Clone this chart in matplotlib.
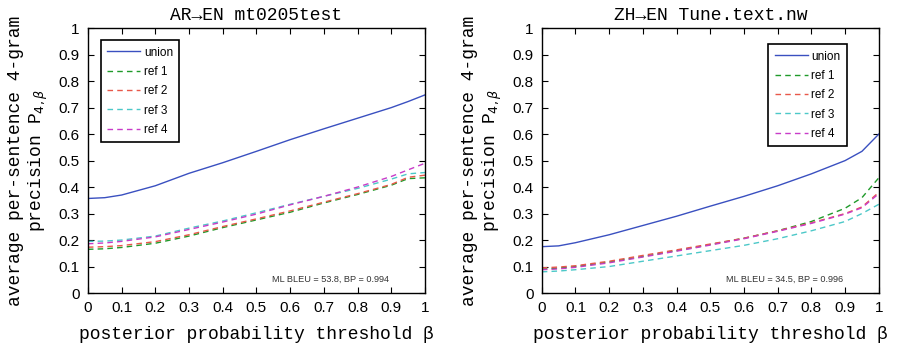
import matplotlib
matplotlib.use('Agg')
import matplotlib.pyplot as plt

# x axis: posterior probability threshold
beta = [0, 0.05, 0.1, 0.2, 0.3, 0.4, 0.5, 0.6, 0.7, 0.8, 0.9, 0.95, 1.0]

# AR->EN mt0205test
ar_union = [0.357, 0.360, 0.370, 0.405, 0.452, 0.492, 0.535, 0.579, 0.620, 0.660, 0.700, 0.723, 0.748]
ar_ref1 = [0.165, 0.167, 0.172, 0.188, 0.215, 0.247, 0.276, 0.305, 0.340, 0.372, 0.407, 0.432, 0.435]
ar_ref2 = [0.173, 0.175, 0.179, 0.194, 0.220, 0.251, 0.280, 0.310, 0.343, 0.375, 0.410, 0.437, 0.445]
ar_ref3 = [0.195, 0.196, 0.200, 0.215, 0.245, 0.272, 0.303, 0.335, 0.365, 0.395, 0.430, 0.450, 0.455]
ar_ref4 = [0.186, 0.189, 0.195, 0.212, 0.240, 0.268, 0.298, 0.333, 0.365, 0.400, 0.440, 0.465, 0.490]

# ZH->EN Tune.text.nw
zh_union = [0.175, 0.178, 0.190, 0.220, 0.255, 0.290, 0.328, 0.365, 0.405, 0.450, 0.500, 0.535, 0.600]
zh_ref1 = [0.090, 0.094, 0.100, 0.117, 0.138, 0.160, 0.183, 0.207, 0.235, 0.270, 0.320, 0.360, 0.435]
zh_ref2 = [0.095, 0.098, 0.103, 0.120, 0.142, 0.163, 0.185, 0.207, 0.235, 0.265, 0.300, 0.325, 0.380]
zh_ref3 = [0.080, 0.083, 0.088, 0.100, 0.120, 0.140, 0.160, 0.180, 0.205, 0.235, 0.270, 0.300, 0.335]
zh_ref4 = [0.088, 0.091, 0.097, 0.114, 0.136, 0.158, 0.181, 0.205, 0.233, 0.263, 0.298, 0.322, 0.375]

series_labels = ['union', 'ref 1', 'ref 2', 'ref 3', 'ref 4']
colors = ['#3a50c0', '#1f9a2a', '#e8584a', '#4cc8c8', '#c83cc8']
styles = ['-', '--', '--', '--', '--']

titles = [u'AR\u2192EN mt0205test', u'ZH\u2192EN Tune.text.nw']
notes = ['ML BLEU = 53.8, BP = 0.994', 'ML BLEU = 34.5, BP = 0.996']
tick_vals = [v / 10 for v in range(11)]
tick_text = ['0', '0.1', '0.2', '0.3', '0.4', '0.5', '0.6', '0.7', '0.8', '0.9', '1']

mono = 'Liberation Mono'
sans = 'Liberation Sans'

fig = plt.figure(figsize=(8.97, 3.48), dpi=100)
ax1 = fig.add_axes([0.098, 0.158, 0.3757, 0.761])
ax2 = fig.add_axes([0.604, 0.158, 0.3757, 0.761])

panels = [(ax1, [ar_union, ar_ref1, ar_ref2, ar_ref3, ar_ref4]),
          (ax2, [zh_union, zh_ref1, zh_ref2, zh_ref3, zh_ref4])]

for i, (ax, data) in enumerate(panels):
    for ys, lab, c, ls in zip(data, series_labels, colors, styles):
        ax.plot(beta, ys, linestyle=ls, color=c, label=lab, linewidth=1.0,
                dashes=(4, 3) if ls == '--' else (None, None))
    ax.set_xlim(0, 1)
    ax.set_ylim(0, 1)
    ax.set_xticks(tick_vals)
    ax.set_yticks(tick_vals)
    ax.set_xticklabels(tick_text)
    ax.set_yticklabels(tick_text)
    ax.tick_params(direction='in', top=True, right=True, length=4, width=0.8,
                   labelsize=11, pad=6)
    for lab in ax.get_xticklabels() + ax.get_yticklabels():
        lab.set_family(sans)
    for sp in ax.spines.values():
        sp.set_linewidth(1.0)
    ax.set_title(titles[i], family=mono, fontsize=13, pad=6)
    ax.set_xlabel(u'posterior probability threshold \u03b2', family=mono, fontsize=13, labelpad=8)
    ax.set_ylabel('average per-sentence 4-gram\nprecision P$_{4,\\beta}$', family=mono,
                  fontsize=13, labelpad=6)
    ax.text(0.893, 0.05, notes[i], transform=ax.transAxes, ha='right', va='center',
            family=sans, fontsize=6.6, color='#333333')

leg_kw = dict(prop={'family': sans, 'size': 8.5}, fancybox=False, edgecolor='black',
              framealpha=1, handlelength=2.8, handletextpad=0.3, labelspacing=0.62,
              borderpad=0.55, borderaxespad=0)
leg1 = ax1.legend(loc='upper left', bbox_to_anchor=(0.038, 0.955), **leg_kw)
leg2 = ax2.legend(loc='upper right', bbox_to_anchor=(0.905, 0.94), **leg_kw)
for leg in (leg1, leg2):
    leg.get_frame().set_linewidth(1.2)

fig.savefig('out.png', dpi=100)
